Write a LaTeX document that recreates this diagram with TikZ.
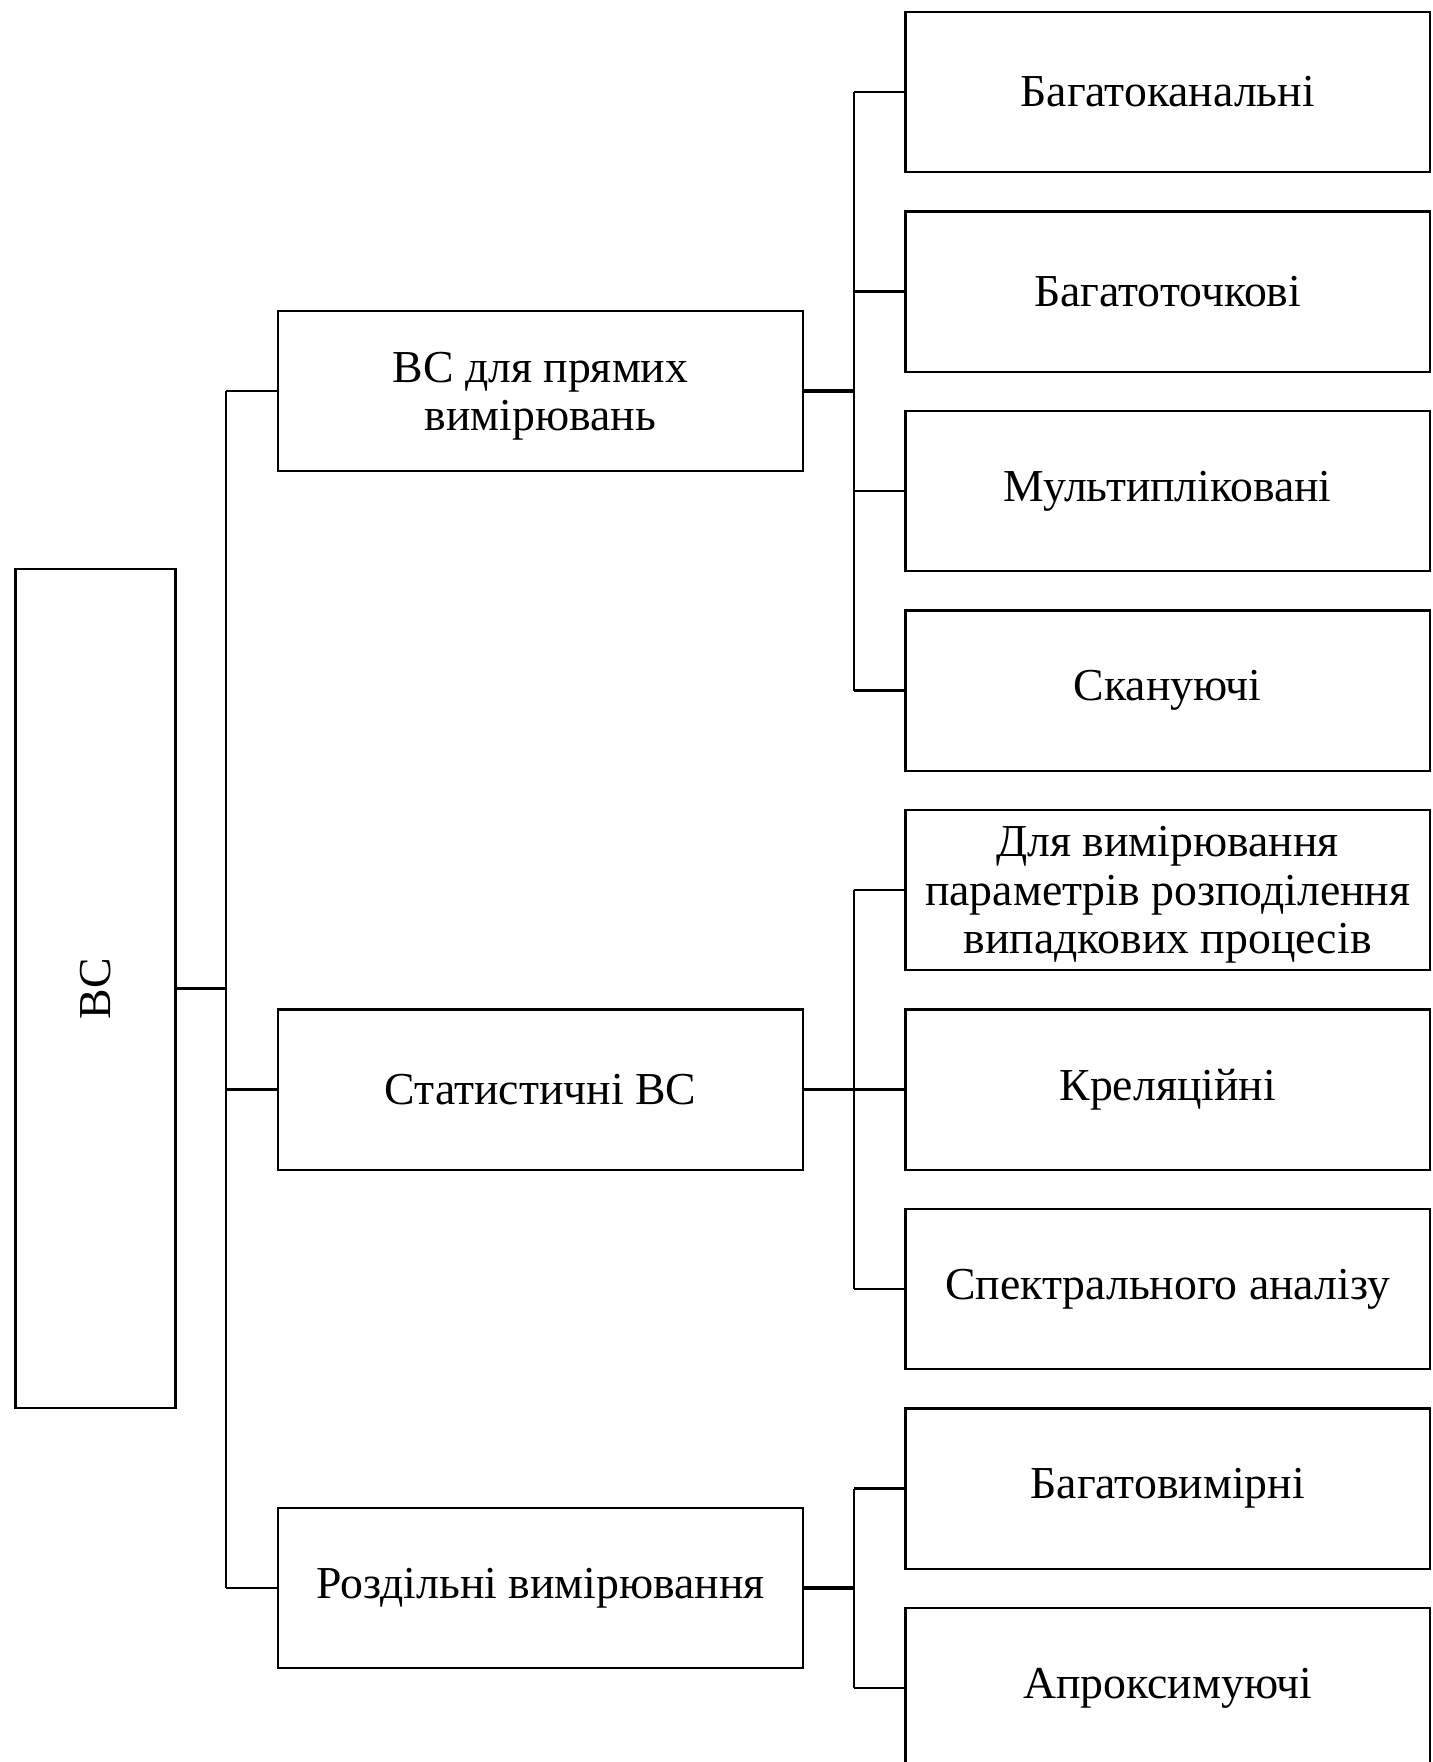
\documentclass[tikz,border=0pt]{standalone}
\usepackage{fontspec}
\setmainfont{Liberation Serif}
\usetikzlibrary{positioning}
\tikzset{
  box/.style={draw, line width=0.6pt, align=center, inner sep=1pt,
    font=\fontsize{13}{13.7}\selectfont},
  leaf/.style={box, minimum width=5.24cm, minimum height=1.6cm},
  group/.style={box, minimum width=5.24cm, minimum height=1.6cm},
  multiline/.style={text depth=0pt},
  link/.style={line width=0.6pt},
  stem/.style={line width=1pt},
}

\begin{document}
\begin{tikzpicture}[x=0.01cm, y=-0.01cm]
  \clip (0,0) rectangle (1433,1762);

  % root box, text turned upright along the left side
  \node[box, minimum width=1.6cm, minimum height=8.39cm] (vs) at (95.5,988.5) {};
  \node[rotate=90, font=\fontsize{13}{13.7}\selectfont] (vslabel) at (vs.center) {ВС};

  % second level
  \node[group, multiline] (direct) at (540.5,391) {ВС для прямих\\вимірювань};
  \node[group] (statist)  at (540.5,1089.5) {Статистичні ВС};
  \node[group] (separate) at (540.5,1588)   {Роздільні вимірювання};

  % third level
  \node[leaf] (multichan)  at (1167.7,92)     {Багатоканальні};
  \node[leaf] (multipoint) at (1167.7,291.5)  {Багатоточкові};
  \node[leaf] (multiplied) at (1167.7,491)    {Мультипліковані};
  \node[leaf] (scanning)   at (1167.7,690.5)  {Скануючі};
  \node[leaf, multiline] (distrib) at (1167.7,890) {Для вимірювання\\параметрів розподілення\\випадкових процесів};
  \node[leaf] (correl)     at (1167.7,1089.5) {Креляційні};
  \node[leaf] (spectral)   at (1167.7,1289)   {Спектрального аналізу};
  \node[leaf] (multidim)   at (1167.7,1488.5) {Багатовимірні};
  \node[leaf] (approx)     at (1167.7,1688)   {Апроксимуючі};

  % trunk from the root
  \coordinate (trunk) at (226,988.5);
  \draw[stem] (vs.east) -- (trunk);
  \draw[link] (trunk |- direct.west) -- (trunk |- separate.west);
  \foreach \g in {direct,statist,separate}
    \draw[link] (trunk |- \g.west) -- (\g.west);

  % branches to the third level
  \coordinate (fork) at (854,0);
  \draw[stem] (direct.east) -- (fork |- direct.east);
  \draw[link] (fork |- multichan.west) -- (fork |- scanning.west);
  \foreach \l in {multichan,multipoint,multiplied,scanning}
    \draw[link] (fork |- \l.west) -- (\l.west);

  \draw[link] (statist.east) -- (fork |- statist.east);
  \draw[link] (fork |- distrib.west) -- (fork |- spectral.west);
  \foreach \l in {distrib,correl,spectral}
    \draw[link] (fork |- \l.west) -- (\l.west);

  \draw[stem] (separate.east) -- (fork |- separate.east);
  \draw[link] (fork |- multidim.west) -- (fork |- approx.west);
  \foreach \l in {multidim,approx}
    \draw[link] (fork |- \l.west) -- (\l.west);
\end{tikzpicture}
\end{document}
